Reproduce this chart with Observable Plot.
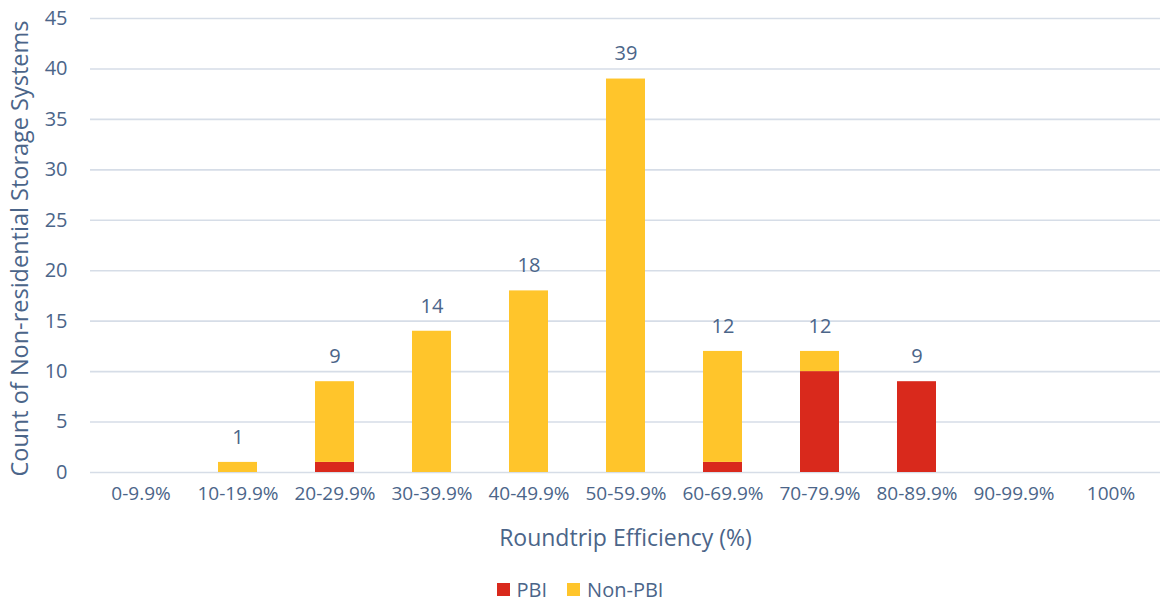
<!DOCTYPE html>
<html>
<head>
<meta charset="utf-8">
<script src="https://cdn.jsdelivr.net/npm/d3@7"></script>
<script src="https://cdn.jsdelivr.net/npm/@observablehq/plot@0.6"></script>
<style>
  html, body { margin: 0; padding: 0; background: #fff; }
  body { width: 1160px; height: 601px; overflow: hidden; font-family: "Open Sans", sans-serif; }
  #chart svg { display: block; }
  #legend { box-sizing: border-box; height: 31px; padding-top: 8px; display: flex; justify-content: center; align-items: center; gap: 20px; color: #4B6589; font-size: 20px; line-height: 22px; }
  .sw { display: inline-block; width: 13px; height: 13px; margin-right: 7px; }
  .item { display: flex; align-items: center; }
</style>
</head>
<body>
<div id="chart"></div>
<div id="legend"></div>
<script>
const categories = ["0-9.9%", "10-19.9%", "20-29.9%", "30-39.9%", "40-49.9%", "50-59.9%", "60-69.9%", "70-79.9%", "80-89.9%", "90-99.9%", "100%"];
const pbi    = [0, 0, 1, 0, 0, 0, 1, 10, 9, 0, 0];
const nonPbi = [0, 1, 8, 14, 18, 39, 11, 2, 0, 0, 0];
const seriesNames = ["PBI", "Non-PBI"];
const seriesColors = ["#D9291C", "#FFC52B"];
const yTicks = [0, 5, 10, 15, 20, 25, 30, 35, 40, 45];

const rows = [];
categories.forEach((c, i) => {
  rows.push({cat: c, series: "PBI", value: pbi[i]});
  rows.push({cat: c, series: "Non-PBI", value: nonPbi[i]});
});
const totals = categories.map((c, i) => ({cat: c, total: pbi[i] + nonPbi[i]})).filter(d => d.total > 0);

const textColor = "#4B6589";

const chart = Plot.plot({
  width: 1160,
  height: 570,
  marginTop: 18,
  marginBottom: 98,
  marginLeft: 90,
  marginRight: 0,
  style: {fontFamily: "Open Sans, sans-serif", color: textColor, fontSize: "17px", background: "white"},
  x: {domain: categories, paddingInner: 0.6, paddingOuter: 0.3, label: null},
  y: {domain: [0, 45], label: null},
  color: {domain: seriesNames, range: seriesColors},
  marks: [
    Plot.gridY(yTicks, {stroke: "#D6DDE7", strokeOpacity: 1, strokeWidth: 1.6}),
    Plot.barY(rows, Plot.stackY({x: "cat", y: "value", fill: "series", order: seriesNames})),
    Plot.text(totals, {x: "cat", y: "total", text: d => String(d.total), dy: -25, fontSize: 20, fill: textColor}),
    Plot.axisX({tickSize: 0, tickPadding: 14, fontSize: 19, label: null}),
    Plot.axisY(yTicks, {tickSize: 0, tickPadding: 23, fontSize: 20, label: null}),
    Plot.text(["Roundtrip Efficiency (%)"], {frameAnchor: "bottom", lineAnchor: "middle", dy: 66, fontSize: 23, fill: textColor}),
    Plot.text(["Count of Non-residential Storage Systems"], {frameAnchor: "left", textAnchor: "middle", lineAnchor: "middle", rotate: -90, dx: -70, dy: 3, fontSize: 23.5, fill: textColor})
  ]
});
document.getElementById("chart").appendChild(chart);

const legend = document.getElementById("legend");
seriesNames.forEach((s, i) => {
  const item = document.createElement("span");
  item.className = "item";
  item.innerHTML = `<span class="sw" style="background:${seriesColors[i]}"></span>${s}`;
  legend.appendChild(item);
});
</script>
</body>
</html>
